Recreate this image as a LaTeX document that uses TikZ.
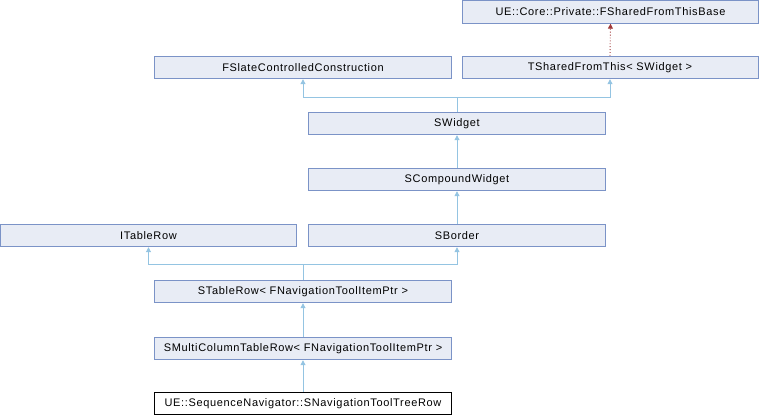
\documentclass[tikz,border=0pt]{standalone}
\usepackage{fontspec}
\setmainfont[LetterSpace=6]{Liberation Sans}
\usetikzlibrary{arrows.meta}
\definecolor{boxfill}{HTML}{E8ECF5}
\definecolor{boxline}{HTML}{7B93C7}
\definecolor{edgecol}{HTML}{94C4E2}
\definecolor{depcol}{HTML}{A03A3A}
\tikzset{
  cls/.style={draw=boxline, fill=boxfill, line width=0.9pt, minimum height=22.5pt, inner sep=0pt, font=\fontsize{11}{13}\selectfont},
  cur/.style={cls, draw=black, fill=white},
  inh/.style={draw=edgecol, line width=0.9pt},
  inharr/.style={inh, -{Triangle[length=5pt,width=5pt]}},
  dep/.style={draw=depcol, line width=0.9pt, dotted, -{Triangle[length=5pt,width=5pt]}}
}
\begin{document}
\begin{tikzpicture}[x=1pt,y=-1pt]
\useasboundingbox (0,0) rectangle (760,416);
\node[cls, minimum width=296pt] (base) at (610.5,12) {UE::Core::Private::FSharedFromThisBase};
\node[cls, minimum width=296pt] (tshared) at (610,67.5) {TSharedFromThis<\ SWidget >};
\node[cls, minimum width=297pt] (fslate) at (303,67.5) {FSlateControlledConstruction};
\node[cls, minimum width=297pt] (swidget) at (457,123.5) {SWidget};
\node[cls, minimum width=297pt] (scomp) at (457,179.5) {SCompoundWidget};
\node[cls, minimum width=296pt] (itable) at (148.5,235.5) {ITableRow};
\node[cls, minimum width=297pt] (sborder) at (457,235.5) {SBorder};
\node[cls, minimum width=297pt] (stable) at (303,291.5) {STableRow<\ FNavigationToolItemPtr >};
\node[cls, minimum width=297pt] (smulti) at (303,348.5) {SMultiColumnTableRow<\ FNavigationToolItemPtr >};
\node[cur, minimum width=297pt] (tree) at (303,403.5) {UE::SequenceNavigator::SNavigationToolTreeRow};

\draw[dep] (tshared.north) -- (base.south);

\coordinate (j1) at (457,97);
\draw[inh] (swidget.north) -- (j1);
\draw[inharr] (j1) -| (fslate.south);
\draw[inharr] (j1) -| (tshared.south);

\draw[inharr] (scomp.north) -- (swidget.south);
\draw[inharr] (sborder.north) -- (scomp.south);

\coordinate (j2) at (303,264);
\draw[inh] (stable.north) -- (j2);
\draw[inharr] (j2) -| (itable.south);
\draw[inharr] (j2) -| (sborder.south);

\draw[inharr] (smulti.north) -- (stable.south);
\draw[inharr] (tree.north) -- (smulti.south);
\end{tikzpicture}
\end{document}
